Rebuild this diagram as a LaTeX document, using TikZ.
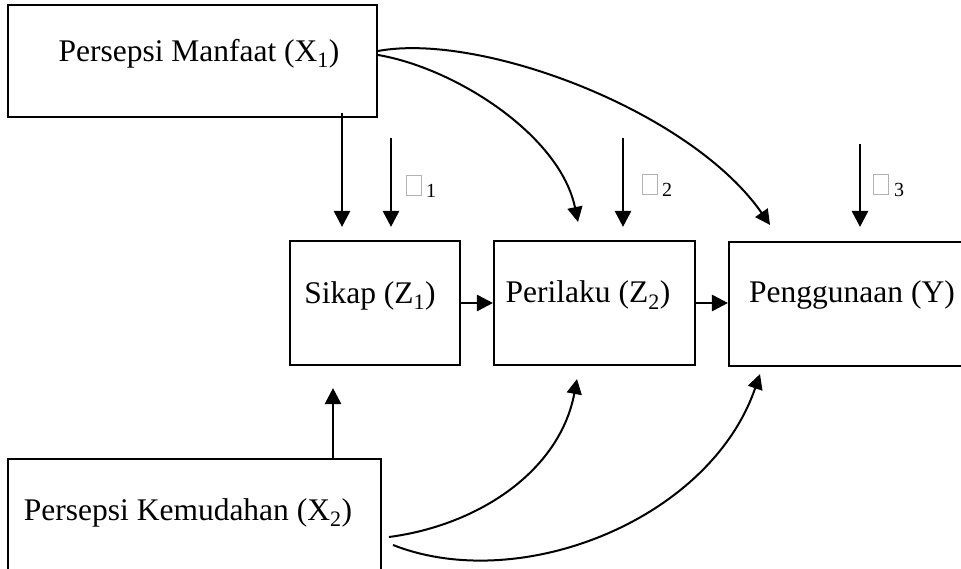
\documentclass[tikz,border=0pt]{standalone}
\usepackage{fontspec}
\setmainfont{Liberation Serif}
\usetikzlibrary{arrows.meta}
\begin{document}
\begin{tikzpicture}[x=1pt,y=-1pt,
  box/.style={draw,line width=2.1pt,inner sep=0pt},
  txt/.style={inner sep=0pt,font=\fontsize{31.5}{37}\selectfont},
  sub/.style={inner sep=0pt,font=\fontsize{20}{24}\selectfont},
  errbox/.style={draw=black!30,line width=1pt,inner sep=0pt,minimum width=15pt,minimum height=20pt},
  straight/.style={line width=2.8pt,-{Triangle[length=16pt,width=16pt]}},
  curved/.style={line width=2pt,-{Triangle[length=15pt,width=15pt]}}]
\useasboundingbox (0,0) rectangle (961,569);
\clip (0,0) rectangle (961,569);
\fill[white] (0,0) rectangle (961,569);
% boxes
\node[box,minimum width=369pt,minimum height=112pt] (x1) at (192.5,61) {};
\node[box,minimum width=373pt,minimum height=112pt] (x2) at (194.5,515) {};
\node[box,minimum width=170pt,minimum height=124pt] (sikap) at (375,303) {};
\node[box,minimum width=201pt,minimum height=124pt] (perilaku) at (594.5,303) {};
\node[box,minimum width=261pt,minimum height=124pt] (peng) at (859.5,304) {};
% texts
\node[txt,anchor=base] (x1t) at (199,62) {Persepsi Manfaat (X\textsubscript{1})};
\node[txt,anchor=base] (x2t) at (188,520) {Persepsi Kemudahan (X\textsubscript{2})};
\node[txt,anchor=base] (sikapt) at (370,304) {Sikap (Z\textsubscript{1})};
\node[txt,anchor=base] (perilakut) at (588,303) {Perilaku (Z\textsubscript{2})};
\node[txt,anchor=base] (pengt) at (852,302) {Penggunaan (Y)};
% error terms
\node[errbox] (eps1) at (413.5,186) {};
\node[sub,anchor=base west] (eps1s) at (426,198) {1};
\node[errbox] (eps2) at (650,185) {};
\node[sub,anchor=base west] (eps2s) at (662,197) {2};
\node[errbox] (eps3) at (881,185) {};
\node[sub,anchor=base west] (eps3s) at (894,197) {3};
\coordinate (e1) at (391,138);
\coordinate (e2) at (623,138);
\coordinate (e3) at (860,144);
\draw[straight,shorten >=13pt] (e1) -- (e1 |- sikap.north);
\draw[straight,shorten >=13pt] (e2) -- (e2 |- perilaku.north);
\draw[straight,shorten >=14pt] (e3) -- (e3 |- peng.north);
% straight paths
\draw[straight,shorten >=13pt] ([xshift=149.5pt,yshift=5pt]x1.south) -- ([xshift=-33pt]sikap.north);
\draw[straight,shorten >=22pt] ([xshift=138.5pt]x2.north) -- ([xshift=-42pt]sikap.south);
\draw[straight] (sikap.east) -- (perilaku.west);
\draw[straight] (perilaku.east) -- (perilaku.east -| peng.west);
% curved paths from X1
\draw[curved] ([yshift=6pt]x1.east) .. controls (455,68) and (560,135) .. ([xshift=-16.5pt,yshift=18pt]perilaku.north);
\draw[curved] ([yshift=10pt]x1.east) .. controls (480,32) and (690,110) .. ([xshift=-89.5pt,yshift=16pt]peng.north);
% curved paths from X2
\draw[curved] ([xshift=7pt,yshift=-22pt]x2.east) .. controls (480,525) and (560,470) .. ([xshift=-17.5pt,yshift=-13pt]perilaku.south);
\draw[curved] ([xshift=11pt,yshift=-30pt]x2.east) .. controls (520,595) and (710,520) .. ([xshift=-99.5pt,yshift=-7pt]peng.south);
\end{tikzpicture}
\end{document}
